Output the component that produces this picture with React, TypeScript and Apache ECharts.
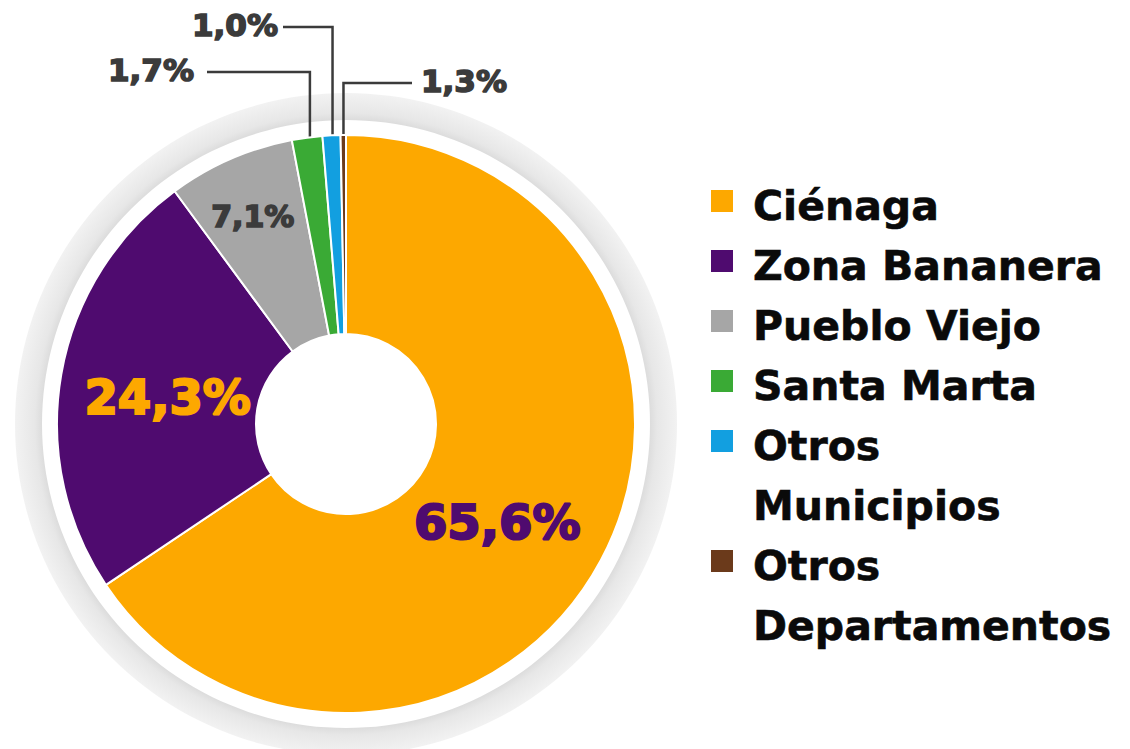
import React, { useEffect, useRef } from "react";
import * as echarts from "echarts";

const categories = [
  "Ciénaga",
  "Zona Bananera",
  "Pueblo Viejo",
  "Santa Marta",
  "Otros Municipios",
  "Otros Departamentos",
];
const values = [65.6, 24.3, 7.1, 1.7, 1.0, 0.3];
const labelTexts = ["65,6%", "24,3%", "7,1%", "1,7%", "1,0%", "1,3%"];
const legendLines = [["Ciénaga"], ["Zona Bananera"], ["Pueblo Viejo"], ["Santa Marta"], ["Otros", "Municipios"], ["Otros", "Departamentos"]];
const colors = ["#FDA800", "#4F0B6F", "#A6A6A6", "#3AAA35", "#129FE0", "#6B3A1B"];
const labelColors = ["#4F0B6F", "#FDA800", "#3B3B3B", "#3B3B3B", "#3B3B3B", "#3B3B3B"];

const CX = 346;
const CY = 424;
const R0 = 90;
const R1 = 289;
const FONT = "'DejaVu Sans', Verdana, sans-serif";

// label placement (layout only)
const insideCfg: Record<number, { r: number; dx: number; dy: number; size: number }> = {
  0: { r: 185, dx: -12, dy: 11, size: 48 },
  1: { r: 182, dx: 1, dy: 4, size: 48 },
  2: { r: 228, dx: -2, dy: 1, size: 30 },
};
const outsideCfg: Record<number, { lineY: number; lineEnd: number; textX: number; align: string }> = {
  3: { lineY: 72, lineEnd: 207, textX: 194, align: "right" },
  4: { lineY: 27, lineEnd: 283, textX: 278, align: "right" },
  5: { lineY: 83, lineEnd: 412, textX: 421, align: "left" },
};

function midPoint(i: number, r: number) {
  const total = values.reduce((a, b) => a + b, 0);
  let cum = 0;
  for (let k = 0; k < i; k++) cum += values[k];
  const theta = (2 * Math.PI * (cum + values[i] / 2)) / total;
  return [CX + r * Math.sin(theta), CY - r * Math.cos(theta)];
}

export default function App() {
  const ref = useRef<HTMLDivElement>(null);
  useEffect(() => {
    if (!ref.current) return;
    const chart = echarts.init(ref.current, undefined, { renderer: "svg" });

    const legendGraphics: any[] = [];
    let row = 0;
    legendLines.forEach((lines, i) => {
      const capCenter = 206 + 60 * row;
      legendGraphics.push({
        type: "rect",
        shape: { x: 711, y: capCenter - 16, width: 22, height: 22 },
        style: { fill: colors[i] },
      });
      legendGraphics.push({
        type: "text",
        x: 753,
        y: capCenter - 30,
        style: {
          text: lines.join("\n"),
          font: `bold 41px ${FONT}`,
          fill: "#0A0A0A",
          lineHeight: 60,
          verticalAlign: "top",
          align: "left",
          stroke: "#0A0A0A",
          lineWidth: 0.6,
        },
      });
      row += lines.length;
    });

    const data = categories.map((name, i) => {
      const outside = i >= 3;
      return {
        name,
        value: values[i],
        itemStyle: { color: colors[i] },
        label: {
          position: outside ? "outside" : "inside",
          color: labelColors[i],
          textBorderColor: labelColors[i],
          textBorderWidth: i < 2 ? 2.2 : 1.6,
          fontSize: i < 3 ? insideCfg[i].size : 31,
        },
        labelLine: {
          show: outside,
          smooth: false,
          lineStyle: { color: "#3B3B3B", width: 2.5 },
        },
      };
    });

    chart.setOption({
      animation: false,
      backgroundColor: "#FFFFFF",
      graphic: [
        {
          type: "ring",
          z: -1,
          silent: true,
          shape: { cx: CX, cy: CY, r: 331, r0: 304 },
          style: {
            fill: {
              type: "radial",
              x: 0.5,
              y: 0.5,
              r: 0.5,
              colorStops: [
                { offset: 0, color: "#dcdcdc" },
                { offset: 0.918, color: "#dcdcdc" },
                { offset: 0.94, color: "#e7e7e7" },
                { offset: 1, color: "#f2f2f2" },
              ],
            },
          },
        },
        ...legendGraphics,
      ],
      series: [
        {
          type: "pie",
          center: [CX, CY],
          radius: [R0, R1],
          startAngle: 90,
          clockwise: true,
          avoidLabelOverlap: false,
          silent: true,
          itemStyle: { borderColor: "#FFFFFF", borderWidth: 2 },
          label: {
            show: true,
            fontFamily: FONT,
            fontWeight: "bold",
            formatter: (p: any) => labelTexts[p.dataIndex],
          },
          labelLayout: (params: any) => {
            const i = params.dataIndex;
            if (i in insideCfg) {
              const c = insideCfg[i];
              const [x, y] = midPoint(i, c.r);
              return { x: x + c.dx, y: y + c.dy, align: "center", verticalAlign: "middle" };
            }
            const cfg = outsideCfg[i];
            const [ax, ay] = midPoint(i, 268);
            return {
              x: cfg.textX,
              y: cfg.lineY - 2,
              align: cfg.align,
              verticalAlign: "middle",
              labelLinePoints: [
                [ax, ay],
                [ax, cfg.lineY],
                [cfg.lineEnd, cfg.lineY],
              ],
            };
          },
          data,
        },
      ],
    });
    return () => chart.dispose();
  }, []);
  return (
    <div
      ref={ref}
      style={{ position: "fixed", left: 0, top: 0, width: 1130, height: 749 }}
    />
  );
}
